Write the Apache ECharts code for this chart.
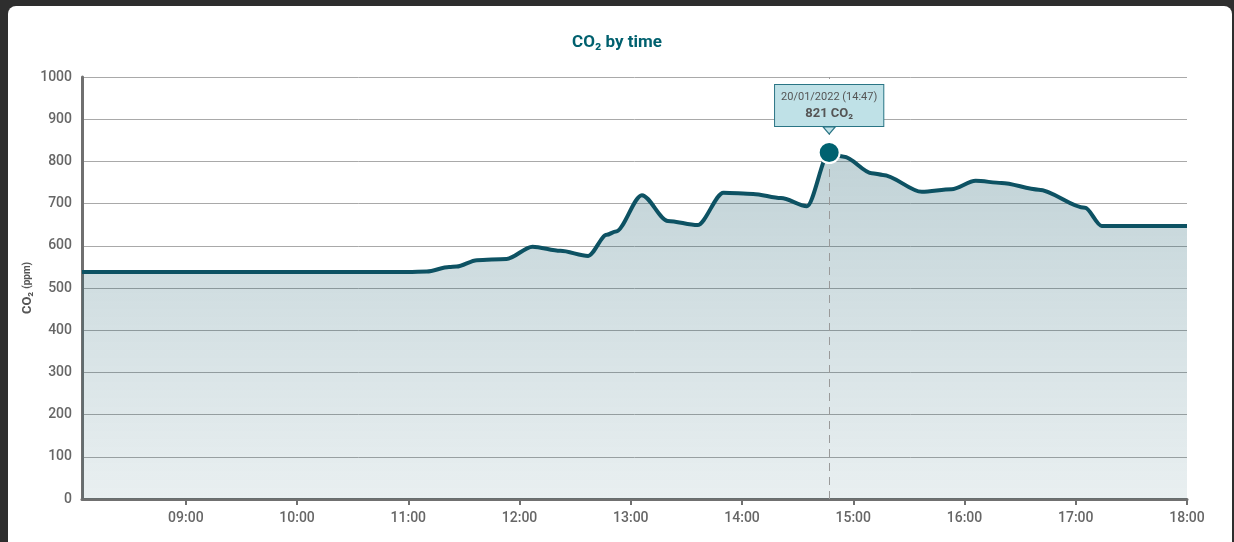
<!DOCTYPE html>
<html>
<head>
<meta charset="utf-8">
<script src="https://cdn.jsdelivr.net/npm/echarts@6/dist/echarts.min.js"></script>
<style>
  html, body { margin: 0; padding: 0; background: #2e2e2e; }
  #card { position: absolute; left: 8px; top: 6px; width: 1224px; height: 536px; background: #fff; border-radius: 8px 8px 0 0; }
  #chart { position: absolute; left: 0; top: 0; width: 1234px; height: 542px; }
</style>
</head>
<body>
<div id="card"></div>
<div id="chart"></div>
<script>
// lecturas de CO2 (hora, ppm)
var times = ['08:04','09:00','10:00','11:00','11:10','11:22','11:26','11:37','11:53','12:07','12:22','12:37','12:47','12:52',
             '13:06','13:20','13:36','13:50','14:06','14:21','14:35','14:47','14:55','15:10','15:16','15:37','15:53',
             '16:06','16:20','16:40','17:05','17:14','17:30','18:00'];
var values = [538,538,538,538,539,550,551,566,569,598,588,576,626,634,
              720,659,649,726,723,713,694,821,811,772,768,728,734,
              754,749,733,690,647,647,647];
var tickLabels = ['09:00','10:00','11:00','12:00','13:00','14:00','15:00','16:00','17:00','18:00'];
var axisStart = '08:04';
var axisEnd = '18:00';
var tipDate = '20/01/2022';
var tipTime = '14:47';

function toMin(t){ var p = t.split(':'); return (+p[0]) * 60 + (+p[1]); }
function toHHMM(m){ var h = Math.floor(m / 60), mm = Math.round(m % 60); return (h < 10 ? '0' : '') + h + ':' + (mm < 10 ? '0' : '') + mm; }

var seriesData = times.map(function (t, i) { return [toMin(t), values[i]]; });
var tipValue = values[times.indexOf(tipTime)];

var chart = echarts.init(document.getElementById('chart'));
var option = {
  backgroundColor: 'transparent',
  textStyle: { fontFamily: 'Roboto' },
  title: {
    text: 'CO₂ by time',
    left: 'center',
    top: 29,
    textStyle: { color: '#00606e', fontSize: 17, fontWeight: 'bold', fontFamily: 'Roboto' }
  },
  grid: { left: 82, right: 47, top: 77, bottom: 43 },
  xAxis: {
    type: 'value',
    min: toMin(axisStart),
    max: toMin(axisEnd),
    axisLine: { lineStyle: { color: '#707070', width: 3 } },
    axisTick: { show: true, length: 6, lineStyle: { color: '#707070', width: 2 }, customValues: tickLabels.map(toMin) },
    axisLabel: { color: '#666', fontSize: 14, fontWeight: 500, margin: 12, customValues: tickLabels.map(toMin), formatter: function (v) { return toHHMM(v); } },
    splitLine: { show: false }
  },
  yAxis: {
    type: 'value',
    min: 0,
    max: 1000,
    interval: 100,
    name: '{a|CO₂} {b|(ppm)}',
    nameLocation: 'middle',
    nameGap: 48,
    nameMoveOverlap: false,
    nameTextStyle: { rich: { a: { fontSize: 13, fontWeight: 'bold', color: '#555' }, b: { fontSize: 10, fontWeight: 'bold', color: '#555' } } },
    axisLine: { show: true, lineStyle: { color: '#707070', width: 3 } },
    axisTick: { show: false },
    axisLabel: { color: '#666', fontSize: 14, fontWeight: 500, margin: 10, formatter: function (v) { return String(v); } },
    splitLine: { lineStyle: { color: '#a9a9a9', width: 1 } }
  },
  series: [
    {
      type: 'line',
      data: seriesData,
      smooth: 0.3,
      smoothMonotone: 'x',
      showSymbol: false,
      lineStyle: { color: '#0d5263', width: 4 },
      areaStyle: {
        color: new echarts.graphic.LinearGradient(0, 0, 0, 1, [
          { offset: 0, color: 'rgba(13,82,99,0.37)' },
          { offset: 1, color: 'rgba(13,82,99,0.13)' }
        ])
      },
      markLine: {
        silent: true,
        symbol: 'none',
        label: { show: false },
        lineStyle: { color: '#9a9a9a', type: [8, 6], width: 1 },
        data: [{ xAxis: toMin(tipTime) }]
      },
      z: 2
    },
    {
      type: 'scatter',
      data: [[toMin(tipTime), tipValue]],
      symbol: 'circle',
      symbolSize: 21,
      itemStyle: { color: '#006270', borderColor: '#fff', borderWidth: 2, opacity: 1 },
      label: {
        show: true,
        position: 'top',
        distance: 15,
        formatter: function () { return '{d|' + tipDate + ' (' + tipTime + ')}\n{v|' + tipValue + ' CO₂}'; },
        backgroundColor: '#bfe1e7',
        borderColor: '#2a7585',
        borderWidth: 1,
        padding: [5, 6, 4, 6],
        align: 'center',
        rich: {
          d: { fontSize: 11, color: '#555', lineHeight: 15, align: 'center' },
          v: { fontSize: 13, fontWeight: 'bold', color: '#555', lineHeight: 17, align: 'center' }
        }
      },
      emphasis: { disabled: true },
      markPoint: {
        silent: true,
        symbol: 'triangle',
        symbolSize: [12, 7],
        symbolRotate: 180,
        symbolOffset: [0, -22],
        itemStyle: { color: '#bfe1e7', borderColor: '#2a7585', borderWidth: 1, opacity: 1 },
        label: { show: false },
        data: [{ coord: [toMin(tipTime), tipValue] }]
      },
      z: 10
    }
  ]
};
chart.setOption(option);
</script>
</body>
</html>
